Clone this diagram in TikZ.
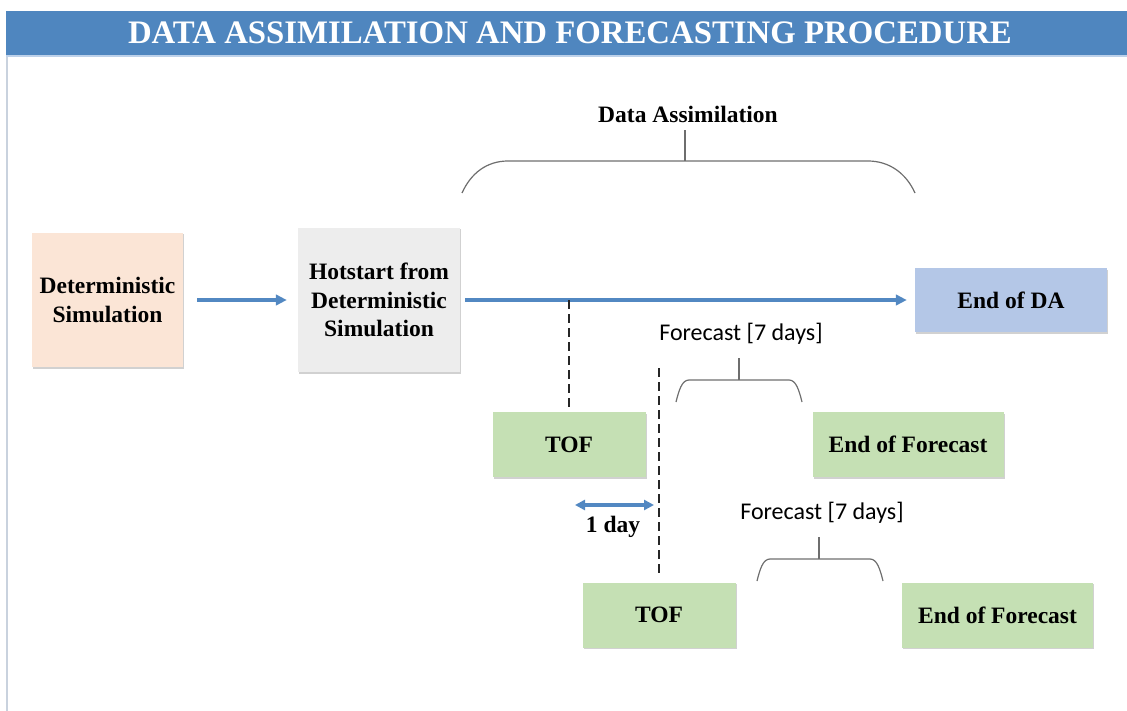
\documentclass[tikz,border=0pt]{standalone}
\usepackage{fontspec}
\setmainfont{Liberation Serif}
\newfontfamily\labelsans{Carlito}
\usetikzlibrary{arrows.meta,shadows}

\definecolor{barblue}{HTML}{4F86BF}
\definecolor{baredge}{HTML}{BDD1EA}
\definecolor{flowblue}{HTML}{5288C2}
\definecolor{peach}{HTML}{FBE5D6}
\definecolor{lightgray}{HTML}{EDEDED}
\definecolor{paleblue}{HTML}{B4C7E7}
\definecolor{palegreen}{HTML}{C5E0B4}
\definecolor{bracegray}{HTML}{6E6E6E}
\definecolor{framegray}{HTML}{C9D2DE}

\tikzset{
  stepbox/.style={draw=none, inner sep=0pt, align=center,
    font=\fontsize{23.5bp}{28.5bp}\selectfont\bfseries,
    drop shadow={shadow xshift=1.2bp, shadow yshift=-1.5bp, opacity=0.18, fill=black}},
  flow/.style={draw=flowblue, line width=3.9bp,
    -{Triangle[length=11bp,width=10.5bp]}},
  span/.style={draw=flowblue, line width=3.9bp,
    {Triangle[length=10bp,width=10bp]}-{Triangle[length=10bp,width=10bp]}},
  marker/.style={draw=black!85, line width=1.1bp, dash pattern=on 9bp off 5bp},
  brace/.style={draw=bracegray, line width=1.2bp},
  serifbold/.style={font=\fontsize{23.5bp}{28.5bp}\selectfont\bfseries, inner sep=0pt},
  sanslabel/.style={font=\fontsize{24bp}{28bp}\selectfont\labelsans, inner sep=0pt},
}

\begin{document}
\begin{tikzpicture}[x=1bp, y=-1bp]
\useasboundingbox (0,0) rectangle (1127,711);

% page frame and heading band
\draw[framegray, line width=1.5bp] (7,55) -- (7,711);
\draw[baredge, line width=1.5bp] (6,56) -- (1127,56);
\node[fill=barblue, minimum width=1121bp, minimum height=44bp, inner sep=0pt]
  (title) at (566.5,33) {};
\node[text=white, inner sep=0pt, font=\fontsize{32.8bp}{36bp}\selectfont\bfseries]
  (titletext) at (570,33) {DATA ASSIMILATION AND FORECASTING PROCEDURE};

% main chain
\node[stepbox, fill=peach, minimum width=151bp, minimum height=134bp]
  (det) at (107.5,300) {Deterministic\\Simulation};
\node[stepbox, fill=lightgray, minimum width=162bp, minimum height=144bp]
  (hot) at (379,300) {Hotstart from\\Deterministic\\Simulation};
\node[stepbox, fill=paleblue, minimum width=192bp, minimum height=64bp]
  (eda) at (1011,300) {End of DA};

% forecast boxes
\node[stepbox, fill=palegreen, minimum width=153bp, minimum height=65bp]
  (tof1) at (569,444.5) {TOF};
\node[stepbox, fill=palegreen, minimum width=191bp, minimum height=65bp]
  (eof1) at (908,444.5) {End of Forecast};
\node[stepbox, fill=palegreen, minimum width=153bp, minimum height=65bp]
  (tof2) at (659,615) {TOF};
\node[stepbox, fill=palegreen, minimum width=191bp, minimum height=65bp]
  (eof2) at (997.5,615) {End of Forecast};

% labels
\node[serifbold] (dalab) at (688,114) {Data Assimilation};
\node[sanslabel] (fc1) at (741,334) {Forecast [7 days]};
\node[sanslabel] (fc2) at (822,513) {Forecast [7 days]};
\node[serifbold] (daylab) at (613,527) {1 day};

% arrows
\draw[flow, shorten <=14bp, shorten >=11bp] (det.east) -- (hot.west);
\draw[flow, shorten <=5bp, shorten >=8bp] (hot.east) -- (eda.west);

% forecast start markers
\coordinate (m1) at (tof1.north |- hot.east);
\draw[marker, shorten >=4bp] (m1) -- (tof1.north);
\coordinate (m2) at (tof2.north |- 0,368);
\draw[marker, shorten >=8bp] (m2) -- (tof2.north);

% one-day offset
\coordinate (s1) at (575,505);
\coordinate (s2) at (654,505);
\draw[span] (s1) -- (s2);

% braces
\coordinate (datop) at (685,130);
\coordinate (damid) at (685,161);
\draw[brace] (462,193) .. controls (471,173) and (487,161) .. (508,161)
  -- (868,161) .. controls (889,161) and (906,173) .. (915,193);
\draw[brace] (damid) -- (datop);

\coordinate (f1top) at (739,358);
\coordinate (f1mid) at (739,380);
\draw[brace] (676,402) .. controls (679,390) and (682,380) .. (689,380)
  -- (789,380) .. controls (796,380) and (799,390) .. (802,402);
\draw[brace] (f1mid) -- (f1top);

\coordinate (f2top) at (819,537);
\coordinate (f2mid) at (819,559);
\draw[brace] (757,581) .. controls (760,569) and (763,559) .. (770,559)
  -- (870,559) .. controls (877,559) and (880,569) .. (883,581);
\draw[brace] (f2mid) -- (f2top);
\end{tikzpicture}
\end{document}
